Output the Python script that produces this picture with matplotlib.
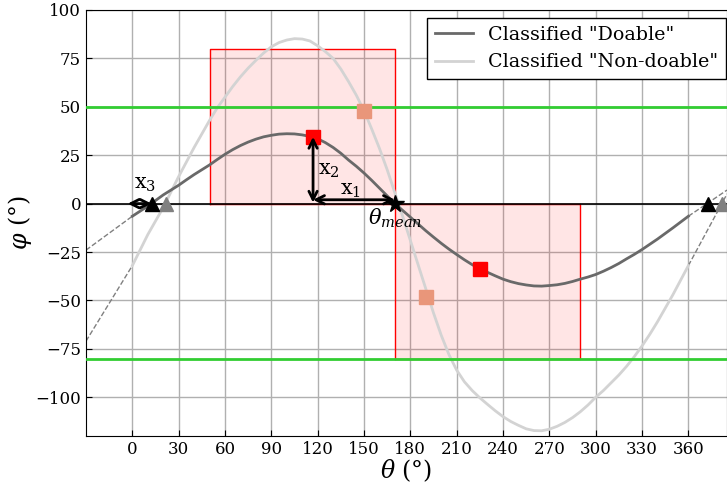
import matplotlib
matplotlib.use("Agg")
import matplotlib.pyplot as plt

plt.rcParams['font.family'] = ['DejaVu Serif']
plt.rcParams['mathtext.fontset'] = 'dejavuserif'

theta = list(range(0, 361, 5))
phi_doable = [-6.5, -3.9, -1.3, 1.6, 4.5, 7.0, 9.5, 12.3, 15, 17.5, 20, 22.8, 25.5, 27.9,
              30, 31.8, 33.3, 34.5, 35.3, 35.9, 36.1, 36.0, 35.5, 34.7, 33.5, 31.5, 29,
              26, 22.5, 19.3, 15.8, 12, 8, 4, 0, -3.5, -7, -10.5, -14, -17.3, -20.5,
              -23.5, -26.3, -29, -31.5, -33.6, -35.5, -37.3, -39, -40.3, -41.3, -42,
              -42.5, -42.6, -42.3, -41.9, -41.2, -40.2, -39, -37.9, -36.6, -34.9, -33,
              -30.9, -28.5, -26.2, -23.7, -21, -18.3, -15.4, -12.5, -9.5, -6.5]
phi_nondoable = [-32, -24, -16, -9, -2, 6, 14, 21.5, 29, 36, 43, 49.5, 55, 60.5, 65.5,
                 70, 74, 77.8, 81, 83.2, 84.5, 85.2, 85, 84, 81.5, 78.5, 75, 69.5, 63, 56,
                 48, 38.5, 28.5, 17.5, 5.5, -6.5, -19, -31.5, -44, -56.5, -68, -78, -86,
                 -92, -96.5, -100.3, -103.7, -107, -110, -112.5, -114.5, -116.3, -117.2,
                 -117.3, -116.5, -115, -113, -110.5, -107.5, -104, -100, -96.5, -92.5,
                 -88.5, -84, -79, -73.5, -67.5, -61, -54, -47, -39.5, -32]

ext_doable_left = ([-30, 0], [-24, -6.5])
ext_doable_right = ([360, 385], [-6.5, 7])
ext_nondoable_left = ([-30, 0], [-71, -32])
ext_nondoable_right = ([360, 385], [-32, 5])

red_pts_theta = [117, 225]
red_pts_phi = [34.5, -34]
salmon_pts_theta = [150, 190]
salmon_pts_phi = [48, -48]
black_tri_theta = [12.5, 373]
gray_tri_theta = [21.5, 382]
theta_mean = 170

rect1 = (50, 170, 0, 80)
rect2 = (170, 290, -80, 0)
green_levels = [50, -80]

xticks = [0, 30, 60, 90, 120, 150, 180, 210, 240, 270, 300, 330, 360]
yticks = [-100, -75, -50, -25, 0, 25, 50, 75, 100]

fig = plt.figure(figsize=(7.27, 4.84), dpi=100)
ax = fig.add_axes([86/727, (484-436)/484, (727-86)/727, (436-10)/484])

ax.set_xlim(-30, 385)
ax.set_ylim(-120, 100)
ax.set_xticks(xticks)
ax.set_yticks(yticks)
ax.grid(True, color='#b0b0b0', linewidth=1, zorder=0)
ax.set_axisbelow(True)
ax.tick_params(direction='in', labelsize=12, length=4)

for (x0, x1, y0, y1) in (rect1, rect2):
    ax.fill_between([x0, x1], y0, y1, facecolor=(1, 0, 0, 0.1), edgecolor='none',
                    linewidth=0, zorder=1)
    ax.plot([x0, x0, x1, x1, x0], [y0, y1, y1, y0, y0], color='red', lw=1, zorder=1.1)

ax.axhline(0, color='black', lw=1.2, zorder=2)

for xs, ys in (ext_doable_left, ext_doable_right, ext_nondoable_left, ext_nondoable_right):
    ax.plot(xs, ys, color='gray', lw=1, ls='--', zorder=2)

ax.plot(theta, phi_nondoable, color='lightgray', lw=2, zorder=3, label='Classified "Non-doable"')
ax.plot(theta, phi_doable, color='dimgray', lw=2, zorder=3.5, label='Classified "Doable"')

for g in green_levels:
    ax.axhline(g, color='limegreen', lw=2, zorder=4)

ax.plot(salmon_pts_theta, salmon_pts_phi, 's', color='darksalmon', ms=10, zorder=5)
ax.plot(red_pts_theta, red_pts_phi, 's', color='red', ms=10, zorder=5)
ax.plot(gray_tri_theta, [0, 0], '^', color='gray', ms=10, zorder=5)
ax.plot(black_tri_theta, [0, 0], '^', color='black', ms=10, zorder=5.5)
ax.plot([theta_mean], [0], '*', color='black', ms=13, zorder=6)

arrow_kw = dict(arrowstyle='<->', color='black', lw=2, mutation_scale=15, shrinkA=0, shrinkB=0)
ax.annotate('', xy=(theta_mean, 2), xytext=(red_pts_theta[0], 2), arrowprops=arrow_kw, zorder=6)
ax.annotate('', xy=(red_pts_theta[0], red_pts_phi[0]), xytext=(red_pts_theta[0], 0.5),
            arrowprops=arrow_kw, zorder=6)
ax.annotate('', xy=(black_tri_theta[0], 0), xytext=(-3, 0), arrowprops=arrow_kw, zorder=6)

ax.text(141.5, 7, r'$\mathrm{x}_1$', fontsize=15, ha='center', va='center', zorder=7)
ax.text(127, 17, r'$\mathrm{x}_2$', fontsize=15, ha='center', va='center', zorder=7)
ax.text(8, 10, r'$\mathrm{x}_3$', fontsize=15, ha='center', va='center', zorder=7)
ax.text(170, -7.5, r'$\theta_{mean}$', fontsize=15, ha='center', va='center', zorder=7)

ax.set_xlabel(r'$\theta$ (°)', fontsize=17, labelpad=0)
ax.set_ylabel(r'$\varphi$ (°)', fontsize=17, labelpad=1)

handles, labels = ax.get_legend_handles_labels()
leg = ax.legend(handles[::-1], labels[::-1], loc='upper right', fontsize=13.7,
                fancybox=False, edgecolor='black', framealpha=1, borderaxespad=0,
                bbox_to_anchor=(0.9984, 0.981))
leg.get_frame().set_linewidth(1)

fig.savefig('out.png', dpi=100)
